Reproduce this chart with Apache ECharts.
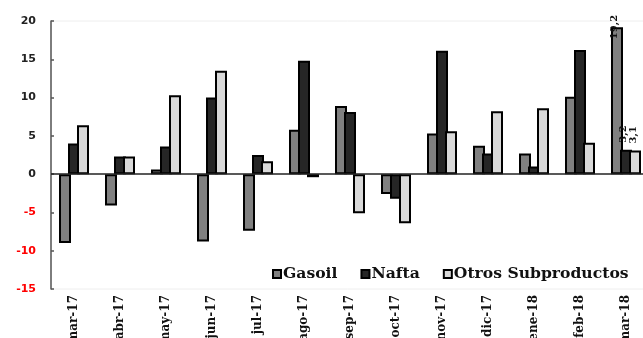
<!DOCTYPE html>
<html><head><meta charset="utf-8">
<script src="https://cdn.jsdelivr.net/npm/echarts@6/dist/echarts.min.js"></script>
<style>html,body{margin:0;padding:0;background:#fff}#c{width:643px;height:338px}</style>
</head><body><div id="c"></div>
<script>
const categories = ['mar-17','abr-17','may-17','jun-17','jul-17','ago-17','sep-17','oct-17','nov-17','dic-17','ene-18','feb-18','mar-18'];
const gasoil = [-9.0, -4.1, 0.6, -8.8, -7.4, 5.8, 8.9, -2.6, 5.3, 3.7, 2.7, 10.1, 19.2];
const nafta  = [4.0, 2.3, 3.6, 10.0, 2.5, 14.8, 8.1, -3.2, 16.1, 2.7, 1.0, 16.2, 3.2];
const otros  = [6.4, 2.3, 10.3, 13.5, 1.7, -0.4, -5.1, -6.4, 5.6, 8.2, 8.6, 4.1, 3.1];
const yTicks = [-15, -10, -5, 0, 5, 10, 15, 20];
const labeledIndex = 12;

const serif = 'DejaVu Serif';
function withLastLabel(arr, offset) {
  return arr.map((v, i) => i === labeledIndex ? {
    value: v,
    label: {show: true, position: 'top', rotate: 90, align: 'left', verticalAlign: 'middle',
      distance: 0, offset: offset, fontFamily: serif, fontWeight: 'bold', fontSize: 10, color: '#111',
      formatter: p => String(p.value).replace('.', ',')}
  } : v);
}
const chart = echarts.init(document.getElementById('c'), null, {renderer: 'canvas'});
const barBase = {type: 'bar', barWidth: 12, barGap: '-25%'};
chart.setOption({
  animation: false,
  grid: {left: 51, top: 21, bottom: 49, width: 598, show: true, borderColor: '#eeeeee', borderWidth: 1,
    outerBoundsMode: 'none', containLabel: false},
  legend: {
    left: 267, top: 261, itemWidth: 8, itemHeight: 8, itemGap: 23, icon: 'rect',
    textStyle: {fontFamily: serif, fontWeight: 'bold', fontSize: 15.6, color: '#111', padding: [0,0,0,-3]},
    data: ['Gasoil', 'Nafta', 'Otros Subproductos']
  },
  xAxis: {
    type: 'category', data: categories,
    axisLine: {show: false, onZero: false}, axisTick: {show: false},
    axisLabel: {rotate: 90, margin: 6, fontFamily: serif, fontWeight: 'bold', fontSize: 12, color: '#111', interval: 0}
  },
  yAxis: {
    type: 'value', min: -15, max: 20, interval: 5,
    axisLine: {show: true, lineStyle: {color: '#555', width: 1.5}},
    axisTick: {show: true, inside: true, length: 3, lineStyle: {color: '#555', width: 1.5}},
    splitLine: {show: false},
    axisLabel: {margin: 15, fontFamily: 'DejaVu Sans', fontWeight: 'bold', fontSize: 11,
      color: v => (v < 0 ? '#ff0000' : '#222'),
      formatter: v => yTicks.includes(v) ? String(v) : ''}
  },
  series: [
    Object.assign({}, barBase, {name: 'Gasoil', data: withLastLabel(gasoil, [-12, -2.5]),
      itemStyle: {color: '#808080', borderColor: '#000', borderWidth: 2},
      markLine: {silent: true, symbol: 'none', label: {show: false},
        lineStyle: {color: '#222', width: 1.5, type: 'solid'}, data: [{yAxis: 0}]}}),
    Object.assign({}, barBase, {name: 'Nafta', data: withLastLabel(nafta, [7, -3]),
      itemStyle: {color: '#262626', borderColor: '#000', borderWidth: 2}}),
    Object.assign({}, barBase, {name: 'Otros Subproductos', data: withLastLabel(otros, [7, -2]),
      itemStyle: {color: '#d9d9d9', borderColor: '#000', borderWidth: 2}})
  ]
});
</script></body></html>
